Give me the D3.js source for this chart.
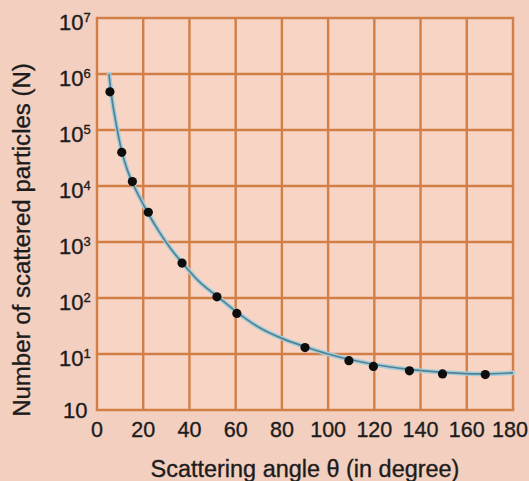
<!DOCTYPE html>
<html><head><meta charset="utf-8">
<script src="https://cdn.jsdelivr.net/npm/d3@7"></script>
<style>
html,body{margin:0;padding:0;background:#f3cfc0;}
svg{display:block;}
text{font-family:"Liberation Sans",Arial,sans-serif;fill:#1c1c1c;stroke:#1c1c1c;stroke-width:0.35px;}
</style></head><body>
<svg id="chart" width="529" height="481"></svg>
<script>
// Data points (scattering angle in degrees, number of scattered particles)
const angles = [5.6, 10.7, 15.3, 22.2, 36.8, 51.9, 60.5, 90, 109, 119.6, 135.2, 149.5, 168];
const counts = [480000, 40000, 12000, 3400, 420, 105, 53, 13, 7.6, 6.0, 5.0, 4.4, 4.3];
// Fitted curve
const curveAngles = [5.2, 6, 8, 10.7, 13, 15.3, 18, 22.2, 27, 32, 36.8, 44, 51.9, 60.5, 70, 80, 90, 100, 110, 120, 135, 150, 165, 180];
const curveCounts = [1000000, 500000, 150000, 42000, 20000, 11500, 6800, 3200, 1500, 750, 430, 200, 108, 56, 30, 19, 13.5, 10, 7.9, 6.5, 5.3, 4.7, 4.4, 4.6];
const xTicks = [0, 20, 40, 60, 80, 100, 120, 140, 160, 180];
const yTicks = [1, 10, 100, 1000, 10000, 100000, 1000000, 10000000];
const yTickExp = ["", "1", "2", "3", "4", "5", "6", "7"];
const xLabel = "Scattering angle θ (in degree)";
const yLabel = "Number of scattered particles (N)";

const svg = d3.select("#chart");
const m = {left: 97, right: 16, top: 18, bottom: 71};
const W = 529, H = 481;
const x = d3.scaleLinear().domain([0, 180]).range([m.left, W - m.right]);
const y = d3.scaleLog().domain([1, 1e7]).range([H - m.bottom, m.top]);

// plot background
svg.append("rect").attr("x", x(0)).attr("y", y(1e7))
  .attr("width", x(180) - x(0)).attr("height", y(1) - y(1e7))
  .attr("fill", "#f7d4c4");

const gridColor = "#d27f47";
svg.append("g").selectAll("line").data(xTicks).join("line")
  .attr("x1", d => x(d)).attr("x2", d => x(d))
  .attr("y1", y(1e7)).attr("y2", y(1))
  .attr("stroke", gridColor).attr("stroke-width", 2.4);
svg.append("g").selectAll("line").data(yTicks).join("line")
  .attr("x1", x(0) - 1.2).attr("x2", x(180) + 1.2)
  .attr("y1", d => y(d)).attr("y2", d => y(d))
  .attr("stroke", gridColor).attr("stroke-width", 2.4);

// x tick labels
const xt = svg.append("g").selectAll("text").data(xTicks).join("text")
  .attr("x", d => x(d)).attr("y", y(1) + 27)
  .attr("text-anchor", "middle").attr("font-size", 21.5)
  .text(d => d);
// keep the last label inside the canvas
xt.each(function() {
  const b = this.getBBox();
  if (b.x + b.width > W - 1) d3.select(this).attr("x", +d3.select(this).attr("x") - (b.x + b.width - (W - 1)));
});

// y tick labels
const yl = svg.append("g").selectAll("text").data(yTicks).join("text")
  .attr("x", (d, i) => i === 0 ? 63 : 59)
  .attr("y", (d, i) => y(d) + (i === 0 ? 8 : 12))
  .attr("font-size", 22);
yl.append("tspan").text("10");
yl.append("tspan").attr("font-size", 13).attr("dy", -8).text((d, i) => yTickExp[i]);

// curve
const line = d3.line().x((d, i) => x(curveAngles[i])).y(d => y(d)).curve(d3.curveMonotoneX);
svg.append("path").datum(curveCounts).attr("d", line)
  .attr("fill", "none").attr("stroke", "#a3cddb").attr("stroke-width", 4.5).attr("stroke-linecap", "round");
svg.append("path").datum(curveCounts).attr("d", line)
  .attr("fill", "none").attr("stroke", "#55808f").attr("stroke-width", 1.7);

// points
svg.append("g").selectAll("circle").data(counts).join("circle")
  .attr("cx", (d, i) => x(angles[i])).attr("cy", d => y(d)).attr("r", 4.6)
  .attr("fill", "#0d0d0d");

// axis labels, sized to the span they take in the reference
function fitSize(sel, target) {
  const len = sel.node().getComputedTextLength();
  const fs = +sel.attr("font-size");
  sel.attr("font-size", fs * target / len);
}
const xl = svg.append("text").attr("x", (x(0) + x(180)) / 2).attr("y", 477)
  .attr("text-anchor", "middle").attr("font-size", 20).text(xLabel);
fitSize(xl, 309);
const ylab = svg.append("text").attr("transform", `translate(30,240) rotate(-90)`)
  .attr("text-anchor", "middle").attr("font-size", 20).text(yLabel);
fitSize(ylab, 354);
</script>
</body></html>
